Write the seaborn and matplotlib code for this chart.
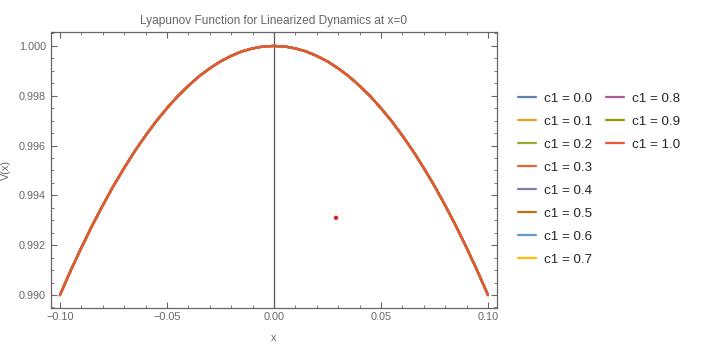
import numpy as np
import pandas as pd
import matplotlib
matplotlib.use('Agg')
import matplotlib.pyplot as plt
import seaborn as sns
from matplotlib.lines import Line2D
from matplotlib.ticker import MultipleLocator, FuncFormatter

# values (all c1 curves coincide)
x_vals = [-0.100, -0.095, -0.090, -0.085, -0.080, -0.075, -0.070, -0.065, -0.060, -0.055,
          -0.050, -0.045, -0.040, -0.035, -0.030, -0.025, -0.020, -0.015, -0.010, -0.005,
          0.000, 0.005, 0.010, 0.015, 0.020, 0.025, 0.030, 0.035, 0.040, 0.045,
          0.050, 0.055, 0.060, 0.065, 0.070, 0.075, 0.080, 0.085, 0.090, 0.095, 0.100]
v_vals = [0.99000, 0.99098, 0.99190, 0.99278, 0.99360, 0.99438, 0.99510, 0.99578, 0.99640, 0.99698,
          0.99750, 0.99798, 0.99840, 0.99878, 0.99910, 0.99938, 0.99960, 0.99978, 0.99990, 0.99998,
          1.00000, 0.99998, 0.99990, 0.99978, 0.99960, 0.99938, 0.99910, 0.99878, 0.99840, 0.99798,
          0.99750, 0.99698, 0.99640, 0.99578, 0.99510, 0.99438, 0.99360, 0.99278, 0.99190, 0.99098,
          0.99000]
c1_values = ['0.0', '0.1', '0.2', '0.3', '0.4', '0.5', '0.6', '0.7', '0.8', '0.9', '1.0']
line_colors = ['#5E81B5', '#E19C24', '#8FB032', '#EB6235', '#8778B3', '#C56E1A',
               '#5D9EC7', '#FFBF00', '#A5609D', '#929600', '#E95536']

# the single red point
pt_x = [0.029]
pt_v = [0.9931]


def fmt_x(v, pos):
    return ('%.2f' % v).replace('-', '\u2212')


def main():
    sns.set_style('ticks')
    plt.rcParams['font.family'] = ['Liberation Sans', 'DejaVu Sans']

    rows = []
    for c in c1_values:
        for xv, vv in zip(x_vals, v_vals):
            rows.append({'x': xv, 'V': vv, 'c1': c})
    df = pd.DataFrame(rows)

    fig = plt.figure(figsize=(7.04, 3.47), dpi=100)
    ax = fig.add_axes([0.0724, 0.1124, 0.6335, 0.7954])

    sns.lineplot(data=df, x='x', y='V', hue='c1', palette=line_colors,
                 linewidth=1.6, legend=False, ax=ax)
    ax.axvline(0, color='#555555', linewidth=0.9, zorder=0)
    sns.scatterplot(x=pt_x, y=pt_v, color='#E0201B', s=10, edgecolor='none', ax=ax, zorder=5)

    ax.set_xlim(-0.1042, 0.1042)
    ax.set_ylim(0.98948, 1.00056)
    ax.xaxis.set_major_locator(MultipleLocator(0.05))
    ax.xaxis.set_minor_locator(MultipleLocator(0.01))
    ax.yaxis.set_major_locator(MultipleLocator(0.002))
    ax.yaxis.set_minor_locator(MultipleLocator(0.0005))
    ax.xaxis.set_major_formatter(FuncFormatter(fmt_x))
    ax.yaxis.set_major_formatter(matplotlib.ticker.FormatStrFormatter('%.3f'))

    gray = '#666666'
    ax.tick_params(which='both', direction='in', top=True, right=True,
                   color=gray, labelcolor=gray, labelsize=7.8)
    ax.tick_params(which='major', length=4.5, width=0.8)
    ax.tick_params(which='minor', length=2.5, width=0.6)
    ax.tick_params(axis='x', pad=3)
    for s in ax.spines.values():
        s.set_color(gray)
        s.set_linewidth(0.9)

    ax.set_title('Lyapunov Function for Linearized Dynamics at x=0', fontsize=8.6, color=gray, pad=6)
    ax.set_xlabel('x', fontsize=7.8, color=gray, labelpad=8)
    ax.set_ylabel('V(x)', fontsize=7.8, color=gray, labelpad=6)

    # legend: first column 8 entries, second column 3 (padded with blanks)
    handles = [Line2D([], [], color=col, linewidth=1.6) for col in line_colors]
    labels = ['c1 = ' + c for c in c1_values]
    blank = Line2D([], [], color='none')
    handles = handles + [blank] * 5
    labels = labels + [''] * 5
    fig.legend(handles, labels, ncol=2, loc='upper left', bbox_to_anchor=(0.719, 0.768),
               frameon=False, fontsize=9.6, handlelength=1.35, handletextpad=0.6,
               columnspacing=1.0, labelspacing=0.8)

    fig.savefig('out.png', dpi=100)
    plt.close(fig)


if __name__ == '__main__':
    main()
